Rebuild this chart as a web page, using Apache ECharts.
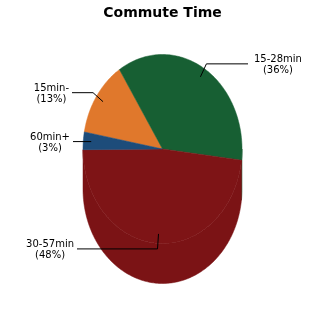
<!DOCTYPE html>
<html><head><meta charset="utf-8">
<script src="https://cdn.jsdelivr.net/npm/echarts@6/dist/echarts.min.js"></script>
<style>html,body{margin:0;padding:0;background:#fff}#c{width:325px;height:325px}</style>
</head><body><div id="c"></div>
<script>
// ---- data ----
const title = "Commute Time";
const categories = ["15min-", "15-28min", "30-57min", "60min+"];
const values = [13, 36, 48, 3];

// ---- styles / layout ----
const colors = ["#e0782c", "#175f33", "#7e1416", "#1d4c7a"];
const sideColors = ["#d06e28", "#14552d", "#7b1315", "#1a4570"];
const geo = { cx: 162.5, cy: 149, rx: 79.5, ry: 94.5, depth: 40, start: 190.4 };
// per-label leader line layout: elbow offset from anchor, end x of horizontal segment
const labelLayout = [
  { elbow: [-10, -9], endX: 72, side: "left" },
  { elbow: [6, -13], endX: 248, side: "right" },
  { elbow: [-1, 15], endX: 77, side: "left" },
  { elbow: [0, 0], endX: 73, side: "left" }
];
const FONT = "10px 'DejaVu Sans'";

const total = values.reduce((a, b) => a + b, 0);
const ctx = document.createElement("canvas").getContext("2d");
ctx.font = FONT;
function tw(s) { return ctx.measureText(s).width; }

function pt(deg, f, dy) {
  const r = deg * Math.PI / 180;
  return [geo.cx + geo.rx * f * Math.cos(r), geo.cy + (dy || 0) + geo.ry * f * Math.sin(r)];
}

const chart = echarts.init(document.getElementById("c"), null, { renderer: "canvas" });

function renderItem(params, api) {
  const i = params.dataIndex;
  let before = 0;
  for (let k = 0; k < i; k++) before += values[k];
  const a0 = geo.start + before / total * 360;
  const a1 = a0 + api.value(0) / total * 360;
  const children = [];
  // top face
  const top = [[geo.cx, geo.cy]];
  const n = Math.max(4, Math.ceil((a1 - a0) / 1));
  for (let s = 0; s <= n; s++) top.push(pt(a0 + (a1 - a0) * s / n, 1));
  children.push({ type: "polygon", z2: 10, shape: { points: top },
    style: { fill: colors[i], stroke: colors[i], lineWidth: 0.5 } });
  // front side: parts of [a0,a1] that fall in [0,180] modulo 360
  for (let base = -360; base <= 720; base += 360) {
    const s0 = Math.max(a0, base), s1 = Math.min(a1, base + 180);
    if (s1 - s0 > 1) {
      const pts = [];
      const m = Math.max(4, Math.ceil(s1 - s0));
      for (let s = 0; s <= m; s++) pts.push(pt(s0 + (s1 - s0) * s / m, 1));
      for (let s = m; s >= 0; s--) pts.push(pt(s0 + (s1 - s0) * s / m, 1, geo.depth));
      children.push({ type: "polygon", z2: 1, shape: { points: pts },
        style: { fill: sideColors[i], stroke: sideColors[i], lineWidth: 0.5 } });
    }
  }
  // label
  const mid = (a0 + a1) / 2;
  const anc = pt(mid, 0.9);
  const L = labelLayout[i];
  const elb = [anc[0] + L.elbow[0], anc[1] + L.elbow[1]];
  const end = [L.endX, elb[1]];
  children.push({ type: "polyline", z2: 20, shape: { points: [anc, elb, end] },
    style: { stroke: "#000", lineWidth: 1, fill: null } });
  const pct = Math.round(api.value(0) / total * 100);
  const l1 = categories[i], l2 = "(" + pct + "%)";
  const w = Math.max(tw(l1), tw(l2));
  const tx = L.side === "left" ? end[0] - 3 - w / 2 : end[0] + 6 + w / 2;
  children.push({ type: "text", z2: 20, x: tx, y: end[1] + 1,
    style: { text: l1 + "\n" + l2, font: FONT, fill: "#000", align: "center",
      verticalAlign: "middle", lineHeight: 11 } });
  return { type: "group", children: children };
}

chart.setOption({
  animation: false,
  title: { text: title, left: "center", top: 1,
    textStyle: { fontFamily: "DejaVu Sans", fontSize: 14, fontWeight: "bold", color: "#000" } },
  series: [{
    type: "custom",
    coordinateSystem: "none",
    renderItem: renderItem,
    data: values.map((v, i) => ({ name: categories[i], value: [v] }))
  }]
});
</script>
</body></html>
